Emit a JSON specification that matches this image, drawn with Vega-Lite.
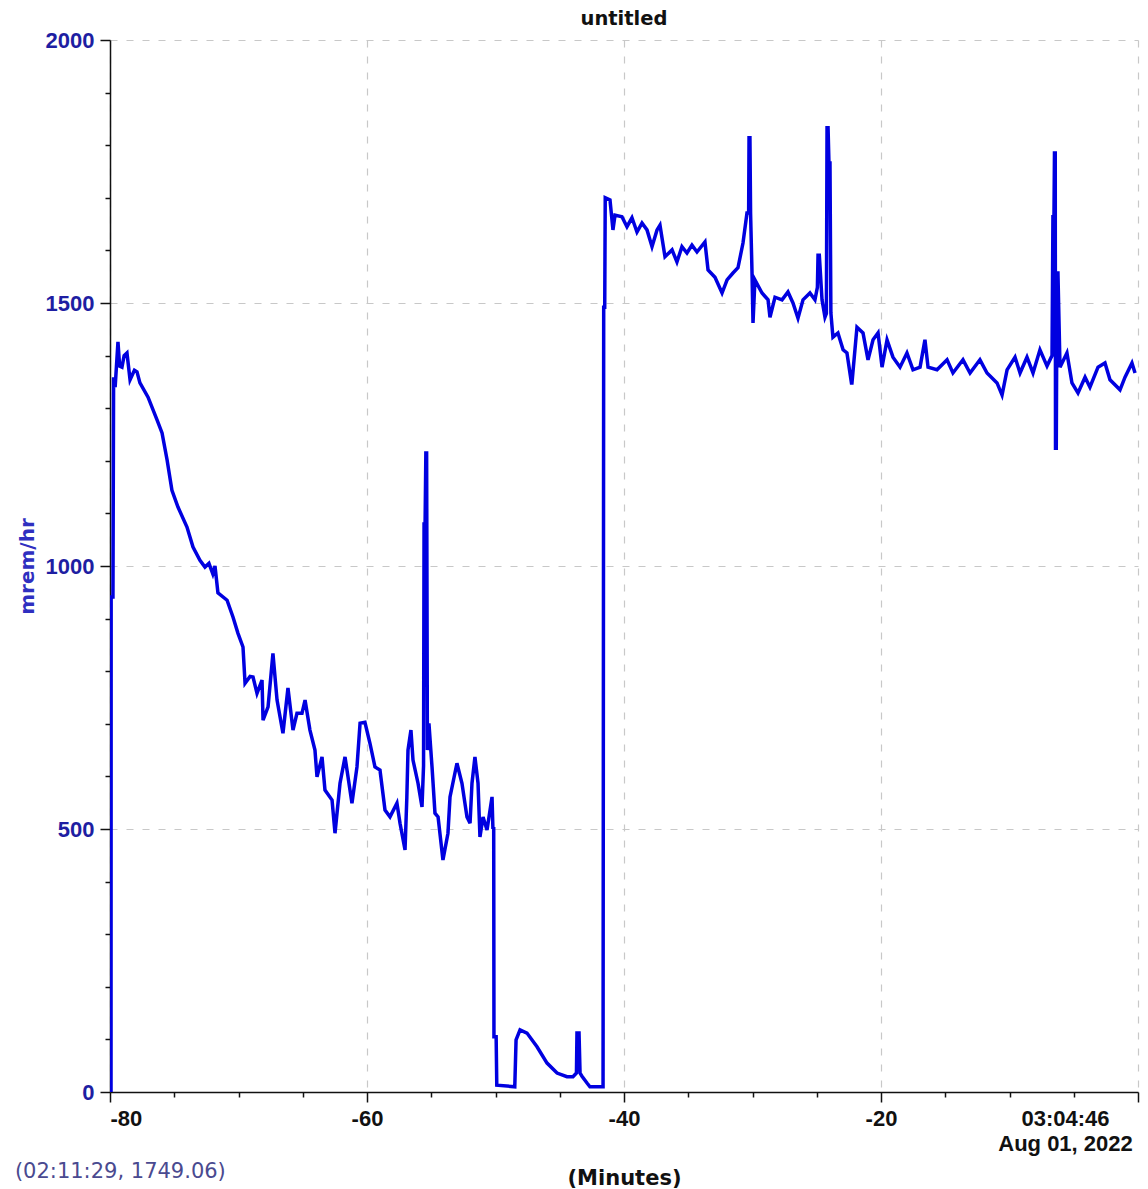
{
  "$schema": "https://vega.github.io/schema/vega-lite/v6.json",
  "width": 1028,
  "height": 1052,
  "autosize": {"type": "none"},
  "padding": {"left": 110, "top": 40, "right": 10, "bottom": 97},
  "background": "white",
  "title": {"text": "untitled", "frame": "group", "anchor": "middle", "font": "DejaVu Sans", "fontSize": 19.5, "fontWeight": "bold", "color": "#111111", "offset": 0},
  "config": {"view": {"stroke": null}},
  "datasets": {
    "series": [
      {"min": -80.00, "mrem": 0}, {"min": -79.92, "mrem": 0}, {"min": -79.91, "mrem": 941}, {"min": -79.77, "mrem": 941},
      {"min": -79.72, "mrem": 1359}, {"min": -79.60, "mrem": 1340}, {"min": -79.38, "mrem": 1426}, {"min": -79.25, "mrem": 1380},
      {"min": -79.07, "mrem": 1378}, {"min": -78.90, "mrem": 1400}, {"min": -78.68, "mrem": 1405}, {"min": -78.44, "mrem": 1354},
      {"min": -78.10, "mrem": 1372}, {"min": -77.90, "mrem": 1369}, {"min": -77.67, "mrem": 1348}, {"min": -77.04, "mrem": 1321},
      {"min": -76.34, "mrem": 1278}, {"min": -75.95, "mrem": 1253}, {"min": -75.56, "mrem": 1202}, {"min": -75.18, "mrem": 1144},
      {"min": -74.71, "mrem": 1112}, {"min": -74.01, "mrem": 1074}, {"min": -73.54, "mrem": 1036}, {"min": -73.00, "mrem": 1011},
      {"min": -72.61, "mrem": 998}, {"min": -72.30, "mrem": 1005}, {"min": -72.00, "mrem": 985}, {"min": -71.83, "mrem": 1000},
      {"min": -71.60, "mrem": 949}, {"min": -70.89, "mrem": 935}, {"min": -70.43, "mrem": 903}, {"min": -70.04, "mrem": 872},
      {"min": -69.65, "mrem": 846}, {"min": -69.49, "mrem": 777}, {"min": -69.10, "mrem": 790}, {"min": -68.87, "mrem": 789},
      {"min": -68.56, "mrem": 758}, {"min": -68.17, "mrem": 783}, {"min": -68.09, "mrem": 707}, {"min": -67.70, "mrem": 732},
      {"min": -67.32, "mrem": 834}, {"min": -67.00, "mrem": 745}, {"min": -66.54, "mrem": 682}, {"min": -66.15, "mrem": 768},
      {"min": -65.76, "mrem": 688}, {"min": -65.45, "mrem": 720}, {"min": -65.06, "mrem": 720}, {"min": -64.82, "mrem": 745},
      {"min": -64.44, "mrem": 688}, {"min": -64.05, "mrem": 650}, {"min": -63.89, "mrem": 599}, {"min": -63.50, "mrem": 637},
      {"min": -63.27, "mrem": 574}, {"min": -62.72, "mrem": 555}, {"min": -62.49, "mrem": 492}, {"min": -62.10, "mrem": 587},
      {"min": -61.71, "mrem": 637}, {"min": -61.17, "mrem": 549}, {"min": -60.78, "mrem": 618}, {"min": -60.54, "mrem": 701},
      {"min": -60.16, "mrem": 703}, {"min": -59.77, "mrem": 663}, {"min": -59.38, "mrem": 618}, {"min": -58.99, "mrem": 612},
      {"min": -58.60, "mrem": 536}, {"min": -58.21, "mrem": 523}, {"min": -57.67, "mrem": 549}, {"min": -57.43, "mrem": 511},
      {"min": -57.04, "mrem": 460}, {"min": -56.90, "mrem": 560}, {"min": -56.81, "mrem": 650}, {"min": -56.58, "mrem": 688},
      {"min": -56.42, "mrem": 631}, {"min": -56.03, "mrem": 587}, {"min": -55.72, "mrem": 542}, {"min": -55.60, "mrem": 620},
      {"min": -55.56, "mrem": 1080}, {"min": -55.48, "mrem": 1080}, {"min": -55.42, "mrem": 1215}, {"min": -55.36, "mrem": 1215},
      {"min": -55.30, "mrem": 650}, {"min": -55.18, "mrem": 701}, {"min": -54.94, "mrem": 618}, {"min": -54.71, "mrem": 530},
      {"min": -54.47, "mrem": 523}, {"min": -54.09, "mrem": 441}, {"min": -53.70, "mrem": 492}, {"min": -53.54, "mrem": 561},
      {"min": -53.00, "mrem": 625}, {"min": -52.61, "mrem": 587}, {"min": -52.22, "mrem": 523}, {"min": -51.98, "mrem": 511},
      {"min": -51.83, "mrem": 587}, {"min": -51.60, "mrem": 637}, {"min": -51.36, "mrem": 587}, {"min": -51.21, "mrem": 485},
      {"min": -50.97, "mrem": 523}, {"min": -50.66, "mrem": 498}, {"min": -50.27, "mrem": 561}, {"min": -50.20, "mrem": 500},
      {"min": -50.14, "mrem": 504}, {"min": -50.12, "mrem": 105}, {"min": -49.95, "mrem": 105}, {"min": -49.90, "mrem": 13},
      {"min": -48.50, "mrem": 10}, {"min": -48.40, "mrem": 99}, {"min": -48.09, "mrem": 118}, {"min": -47.55, "mrem": 112},
      {"min": -46.77, "mrem": 86}, {"min": -45.99, "mrem": 55}, {"min": -45.21, "mrem": 36}, {"min": -44.44, "mrem": 29},
      {"min": -43.97, "mrem": 29}, {"min": -43.70, "mrem": 36}, {"min": -43.66, "mrem": 112}, {"min": -43.50, "mrem": 112},
      {"min": -43.42, "mrem": 36}, {"min": -43.27, "mrem": 30}, {"min": -42.88, "mrem": 17}, {"min": -42.65, "mrem": 10},
      {"min": -41.63, "mrem": 10}, {"min": -41.58, "mrem": 1492}, {"min": -41.50, "mrem": 1492}, {"min": -41.46, "mrem": 1700},
      {"min": -41.09, "mrem": 1696}, {"min": -40.86, "mrem": 1639}, {"min": -40.70, "mrem": 1667}, {"min": -40.16, "mrem": 1664},
      {"min": -39.77, "mrem": 1645}, {"min": -39.38, "mrem": 1662}, {"min": -38.99, "mrem": 1635}, {"min": -38.60, "mrem": 1652},
      {"min": -38.21, "mrem": 1639}, {"min": -37.82, "mrem": 1607}, {"min": -37.43, "mrem": 1639}, {"min": -37.20, "mrem": 1648},
      {"min": -36.81, "mrem": 1588}, {"min": -36.26, "mrem": 1601}, {"min": -35.88, "mrem": 1578}, {"min": -35.49, "mrem": 1607},
      {"min": -35.10, "mrem": 1595}, {"min": -34.71, "mrem": 1610}, {"min": -34.32, "mrem": 1597}, {"min": -33.70, "mrem": 1616},
      {"min": -33.46, "mrem": 1563}, {"min": -32.92, "mrem": 1549}, {"min": -32.37, "mrem": 1519}, {"min": -31.98, "mrem": 1544},
      {"min": -31.52, "mrem": 1557}, {"min": -31.13, "mrem": 1567}, {"min": -30.74, "mrem": 1614}, {"min": -30.43, "mrem": 1671},
      {"min": -30.30, "mrem": 1671}, {"min": -30.27, "mrem": 1814}, {"min": -30.20, "mrem": 1814}, {"min": -30.15, "mrem": 1671},
      {"min": -30.04, "mrem": 1560}, {"min": -29.96, "mrem": 1462}, {"min": -29.81, "mrem": 1544}, {"min": -29.26, "mrem": 1519},
      {"min": -28.79, "mrem": 1506}, {"min": -28.64, "mrem": 1473}, {"min": -28.25, "mrem": 1511}, {"min": -27.70, "mrem": 1506},
      {"min": -27.24, "mrem": 1521}, {"min": -26.85, "mrem": 1500}, {"min": -26.46, "mrem": 1471}, {"min": -26.07, "mrem": 1506},
      {"min": -25.53, "mrem": 1519}, {"min": -25.14, "mrem": 1506}, {"min": -24.95, "mrem": 1530}, {"min": -24.90, "mrem": 1591},
      {"min": -24.80, "mrem": 1591}, {"min": -24.59, "mrem": 1506}, {"min": -24.36, "mrem": 1473}, {"min": -24.25, "mrem": 1480},
      {"min": -24.20, "mrem": 1833}, {"min": -24.12, "mrem": 1833}, {"min": -24.05, "mrem": 1766}, {"min": -23.97, "mrem": 1766},
      {"min": -23.90, "mrem": 1481}, {"min": -23.74, "mrem": 1435}, {"min": -23.35, "mrem": 1443}, {"min": -22.95, "mrem": 1411},
      {"min": -22.65, "mrem": 1405}, {"min": -22.30, "mrem": 1348}, {"min": -22.26, "mrem": 1348}, {"min": -21.87, "mrem": 1454},
      {"min": -21.40, "mrem": 1443}, {"min": -21.01, "mrem": 1392}, {"min": -20.62, "mrem": 1430}, {"min": -20.23, "mrem": 1443},
      {"min": -19.92, "mrem": 1378}, {"min": -19.53, "mrem": 1430}, {"min": -19.07, "mrem": 1397}, {"min": -18.52, "mrem": 1378},
      {"min": -17.98, "mrem": 1405}, {"min": -17.51, "mrem": 1373}, {"min": -16.96, "mrem": 1378}, {"min": -16.58, "mrem": 1430},
      {"min": -16.34, "mrem": 1378}, {"min": -15.64, "mrem": 1373}, {"min": -14.86, "mrem": 1392}, {"min": -14.40, "mrem": 1367},
      {"min": -13.62, "mrem": 1392}, {"min": -13.07, "mrem": 1367}, {"min": -12.30, "mrem": 1392}, {"min": -11.75, "mrem": 1367},
      {"min": -10.97, "mrem": 1348}, {"min": -10.58, "mrem": 1325}, {"min": -10.19, "mrem": 1373}, {"min": -9.57, "mrem": 1397},
      {"min": -9.18, "mrem": 1367}, {"min": -8.64, "mrem": 1397}, {"min": -8.17, "mrem": 1367}, {"min": -7.63, "mrem": 1411},
      {"min": -7.08, "mrem": 1380}, {"min": -6.69, "mrem": 1400}, {"min": -6.62, "mrem": 1664}, {"min": -6.54, "mrem": 1664},
      {"min": -6.50, "mrem": 1785}, {"min": -6.44, "mrem": 1785}, {"min": -6.42, "mrem": 1224}, {"min": -6.36, "mrem": 1224},
      {"min": -6.30, "mrem": 1557}, {"min": -6.23, "mrem": 1557}, {"min": -6.07, "mrem": 1378}, {"min": -5.53, "mrem": 1405},
      {"min": -5.14, "mrem": 1348}, {"min": -4.67, "mrem": 1329}, {"min": -4.12, "mrem": 1359}, {"min": -3.74, "mrem": 1340},
      {"min": -3.11, "mrem": 1378}, {"min": -2.57, "mrem": 1386}, {"min": -2.18, "mrem": 1354}, {"min": -1.40, "mrem": 1335},
      {"min": -1.01, "mrem": 1359}, {"min": -0.47, "mrem": 1386}, {"min": -0.23, "mrem": 1367}
    ]
  },
  "layer": [
    {
      "data": {"name": "series"},
      "mark": {"type": "point", "opacity": 0},
      "encoding": {
        "x": {"field": "min", "type": "quantitative", "scale": {"domain": [-80, 0], "nice": false, "zero": false},
          "axis": {"orient": "bottom", "values": [-75, -70, -65, -55, -50, -45, -35, -30, -25, -15, -10, -5], "labels": false, "domain": false, "grid": false, "title": null, "tickSize": 5, "tickColor": "#111111", "tickWidth": 1.5}},
        "y": {"field": "mrem", "type": "quantitative", "scale": {"domain": [0, 2000], "nice": false},
          "axis": {"orient": "left", "values": [100, 200, 300, 400, 600, 700, 800, 900, 1100, 1200, 1300, 1400, 1600, 1700, 1800, 1900], "labels": false, "domain": false, "grid": false, "title": null, "tickSize": 5, "tickColor": "#111111", "tickWidth": 1.5}}
      }
    },
    {
      "data": {"name": "series"},
      "mark": {"type": "line", "color": "#0000e0", "strokeWidth": 3.5, "clip": true},
      "encoding": {
        "x": {"field": "min", "type": "quantitative",
          "axis": {
            "orient": "bottom", "values": [-80, -60, -40, -20, 0], "title": "(Minutes)",
            "titleFont": "DejaVu Sans", "titleFontSize": 21, "titleFontWeight": "bold", "titleColor": "#111111", "titlePadding": 13,
            "labelFont": "Liberation Sans", "labelFontSize": 22, "labelFontWeight": "bold", "labelColor": "#111111",
            "labelPadding": 6, "labelLineHeight": 25, "labelBaseline": "top", "labelFlush": false, "labelOverlap": false,
            "labelExpr": "datum.value === 0 ? ['03:04:46', 'Aug 01, 2022'] : (datum.value + '')",
            "labelAlign": {"condition": {"test": "datum.value <= -80", "value": "left"}, "value": "center"},
            "labelOffset": {"condition": {"test": "datum.value === 0", "value": -73}, "value": 0},
            "tickSize": 10, "tickColor": "#111111", "tickWidth": 1.5, "domainColor": "#111111", "domainWidth": 1.5,
            "grid": true, "gridColor": "#c8c8c8", "gridDash": [7, 9], "gridWidth": 1.2
          }},
        "y": {"field": "mrem", "type": "quantitative",
          "axis": {
            "orient": "left", "values": [0, 500, 1000, 1500, 2000], "title": "mrem/hr",
            "titleFont": "DejaVu Sans", "titleFontSize": 20, "titleFontWeight": "bold", "titleColor": "#2f2fc0", "titlePadding": 8,
            "labelFont": "Liberation Sans", "labelFontSize": 22, "labelFontWeight": "bold", "labelColor": "#1e1ea2",
            "labelPadding": 6, "labelOverlap": false, "labelExpr": "datum.value + ''",
            "tickSize": 10, "tickColor": "#111111", "tickWidth": 1.5, "domainColor": "#111111", "domainWidth": 1.5,
            "grid": true, "gridColor": "#c8c8c8", "gridDash": [7, 9], "gridWidth": 1.2
          }}
      }
    },
    {
      "data": {"values": [{"readout": "(02:11:29, 1749.06)"}]},
      "mark": {"type": "text", "align": "left", "baseline": "middle", "font": "DejaVu Sans", "fontSize": 21, "color": "#4a4a90", "clip": false},
      "encoding": {
        "x": {"datum": -87.4, "type": "quantitative", "axis": null},
        "y": {"datum": -152, "type": "quantitative", "axis": null},
        "text": {"field": "readout", "type": "nominal"}
      }
    }
  ],
  "resolve": {"axis": {"x": "independent", "y": "independent"}}
}
